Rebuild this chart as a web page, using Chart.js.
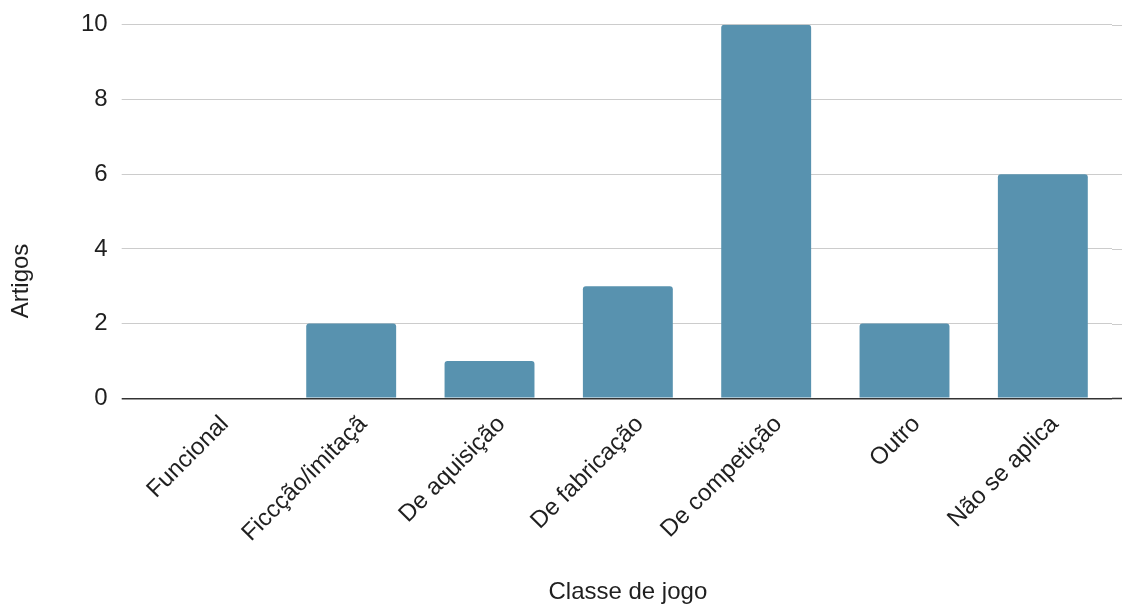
<!DOCTYPE html>
<html>
<head>
<meta charset="utf-8">
<script src="https://cdn.jsdelivr.net/npm/chart.js@4"></script>
<style>
  html, body { margin: 0; padding: 0; background: #fff; }
  #wrap { width: 1123px; height: 606px; }
</style>
</head>
<body>
<div id="wrap"><canvas id="classeChart" width="1123" height="606"></canvas></div>
<script>
// categories + counts
const categorias = ['Funcional', 'Ficcção/imitaçã', 'De aquisição', 'De fabricação', 'De competição', 'Outro', 'Não se aplica'];
const artigos = [0, 2, 1, 3, 10, 2, 6];
const yTicks = [0, 2, 4, 6, 8, 10];
const yTitle = 'Artigos';

const fontFamily = '"Liberation Sans", Arial, sans-serif';
const textColor = '#1f1f1f';

// gridlines in the reference run a little past the plot on the right
const gridExtend = {
  id: 'gridExtend',
  beforeDatasetsDraw(chart) {
    const y = chart.scales.y;
    const ctx = chart.ctx;
    const right = chart.chartArea.right;
    ctx.save();
    y.ticks.forEach((t) => {
      const py = Math.round(y.getPixelForValue(t.value)) + 0.5;
      ctx.beginPath();
      ctx.strokeStyle = t.value === 0 ? '#333' : '#cccccc';
      ctx.lineWidth = t.value === 0 ? 1.5 : 1;
      ctx.moveTo(right, py);
      ctx.lineTo(right + 10, py);
      ctx.stroke();
    });
    ctx.restore();
  }
};

// y title sits lower than the plot centre in the reference, so draw it by hand
const yTitlePlugin = {
  id: 'yTitlePlugin',
  afterDraw(chart) {
    const ctx = chart.ctx;
    ctx.save();
    ctx.translate(21, 281);
    ctx.rotate(-Math.PI / 2);
    ctx.font = '24px ' + fontFamily;
    ctx.fillStyle = textColor;
    ctx.textAlign = 'center';
    ctx.textBaseline = 'middle';
    ctx.fillText(yTitle, 0, 0);
    ctx.restore();
  }
};

new Chart(document.getElementById('classeChart').getContext('2d'), {
  type: 'bar',
  data: {
    labels: categorias,
    datasets: [{
      label: 'Artigos',
      data: artigos,
      backgroundColor: '#5892af',
      borderRadius: { topLeft: 3, topRight: 3 },
      borderSkipped: 'bottom',
      categoryPercentage: 0.65,
      barPercentage: 1
    }]
  },
  options: {
    responsive: false,
    animation: false,
    devicePixelRatio: 1,
    layout: { padding: { top: 5, right: 11, left: 67, bottom: 0 } },
    plugins: {
      legend: { display: false },
      tooltip: { enabled: false }
    },
    scales: {
      x: {
        grid: { display: false, drawTicks: false },
        border: { display: false },
        ticks: {
          color: textColor,
          font: { family: fontFamily, size: 24 },
          maxRotation: 45,
          minRotation: 45,
          autoSkip: false,
          labelOffset: 12,
          padding: 12
        },
        title: {
          display: true,
          text: 'Classe de jogo',
          color: textColor,
          font: { family: fontFamily, size: 24, lineHeight: 1.1 },
          padding: { top: 20, bottom: 0 }
        }
      },
      y: {
        min: 0,
        max: 10,
        afterBuildTicks: function (axis) {
          axis.ticks = yTicks.map((v) => ({ value: v }));
        },
        grid: {
          color: (ctx) => (ctx.tick && ctx.tick.value === 0 ? '#333' : '#cccccc'),
          lineWidth: (ctx) => (ctx.tick && ctx.tick.value === 0 ? 1.5 : 1),
          tickLength: 22,
          drawTicks: true
        },
        border: { display: false },
        ticks: {
          color: textColor,
          font: { family: fontFamily, size: 24, lineHeight: 0.9 },
          padding: 14
        }
      }
    }
  },
  plugins: [gridExtend, yTitlePlugin]
});
</script>
</body>
</html>
